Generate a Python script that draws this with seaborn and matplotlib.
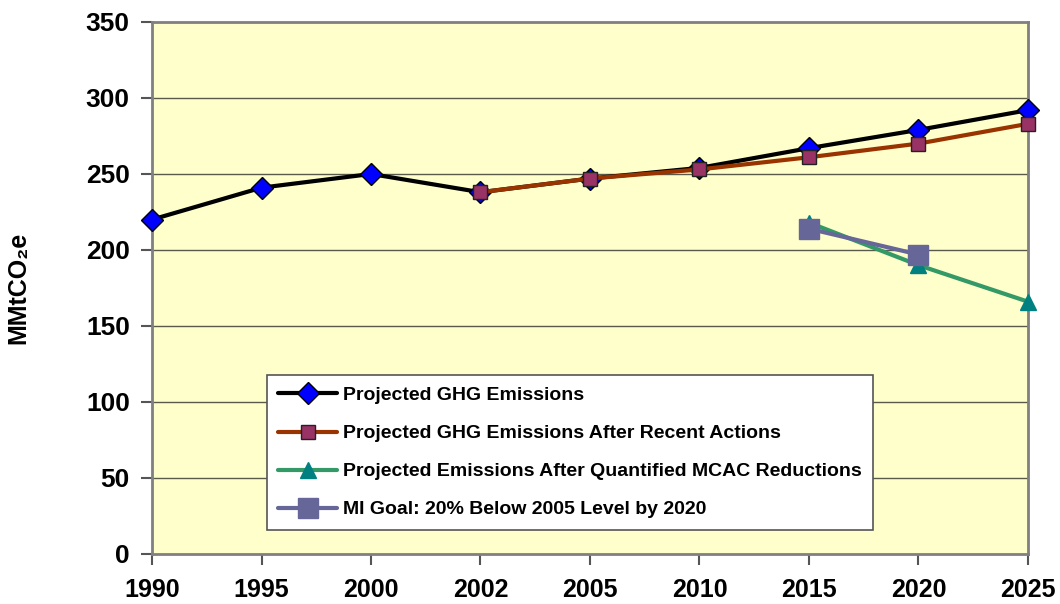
import numpy as np
import pandas as pd
import matplotlib
matplotlib.use('Agg')
import matplotlib.pyplot as plt
import seaborn as sns

years = ['1990', '1995', '2000', '2002', '2005', '2010', '2015', '2020', '2025']
ghg = [220, 241, 250, 238, 247, 254, 267, 279, 292]
recent_years = ['2002', '2005', '2010', '2015', '2020', '2025']
recent = [238, 247, 253, 261, 270, 283]
mcac_years = ['2015', '2020', '2025']
mcac = [218, 190, 166]
goal_years = ['2015', '2020']
goal = [214, 197]
yticks = [0, 50, 100, 150, 200, 250, 300, 350]

labels = ['Projected GHG Emissions',
          'Projected GHG Emissions After Recent Actions',
          'Projected Emissions After Quantified MCAC Reductions',
          'MI Goal: 20% Below 2005 Level by 2020']

sns.set_style('white')
plt.rcParams['font.family'] = ['Liberation Sans', 'DejaVu Sans']
plt.rcParams['font.weight'] = 'bold'
plt.rcParams['text.color'] = 'black'
plt.rcParams['axes.labelcolor'] = 'black'
plt.rcParams['xtick.color'] = 'black'
plt.rcParams['ytick.color'] = 'black'


def frame(yrs, vals):
    return pd.DataFrame({'pos': [years.index(y) for y in yrs], 'val': vals})


fig = plt.figure(figsize=(10.6, 6.04), dpi=100)
ax = fig.add_axes([0.1434, 0.0828, 0.8264, 0.8808])
ax.set_facecolor('#FFFFCC')

sns.lineplot(data=frame(years, ghg), x='pos', y='val', ax=ax, color='black', lw=3,
             marker='D', markersize=11, markerfacecolor='#0000FF', markeredgecolor='black',
             markeredgewidth=1, label=labels[0], clip_on=False, zorder=3)
sns.lineplot(data=frame(recent_years, recent), x='pos', y='val', ax=ax, color='#993300', lw=3,
             marker='s', markersize=10, markerfacecolor='#993366', markeredgecolor='#222222',
             markeredgewidth=1, label=labels[1], clip_on=False, zorder=4)
sns.lineplot(data=frame(mcac_years, mcac), x='pos', y='val', ax=ax, color='#339966', lw=3,
             marker='^', markersize=11, markerfacecolor='#008080', markeredgecolor='#008080',
             markeredgewidth=1, label=labels[2], clip_on=False, zorder=5)
sns.lineplot(data=frame(goal_years, goal), x='pos', y='val', ax=ax, color='#666699', lw=3,
             marker='s', markersize=14, markerfacecolor='#666699', markeredgecolor='#666699',
             markeredgewidth=1, label=labels[3], clip_on=False, zorder=6)

ax.set_xlim(0, len(years) - 1)
ax.set_ylim(0, 350)
ax.set_xticks(range(len(years)))
ax.set_xticklabels(years)
ax.set_yticks(yticks)
ax.set_xlabel('')
ax.set_ylabel('MMtCO₂e', fontsize=18, fontweight='bold', labelpad=14)
ax.yaxis.set_label_coords(-0.139, 0.5)

for y in yticks[1:-1]:
    ax.axhline(y, color='#5a5a4a', lw=1, zorder=1)

for side in ['left', 'right', 'top', 'bottom']:
    ax.spines[side].set_color('#808080')
    ax.spines[side].set_linewidth(2)

ax.tick_params(axis='both', which='both', direction='out', length=8, width=1.5,
               color='#555555', labelsize=19, labelcolor='black')
ax.tick_params(axis='x', pad=9, bottom=True, labelsize=18)
ax.tick_params(axis='y', pad=8, left=True)
for t in ax.get_xticklabels() + ax.get_yticklabels():
    t.set_fontweight('bold')

leg = ax.legend(loc='lower left', bbox_to_anchor=(0.131, 0.045), fontsize=14,
                frameon=True, fancybox=False, framealpha=1, edgecolor='#555555',
                facecolor='white', handlelength=3.0, handletextpad=0.3,
                labelspacing=1.05, borderpad=0.6, borderaxespad=0)
leg.get_frame().set_linewidth(1.2)
for t in leg.get_texts():
    t.set_fontweight('bold')
    t.set_color('black')
leg.set_zorder(10)

fig.savefig('out.png', dpi=100)
